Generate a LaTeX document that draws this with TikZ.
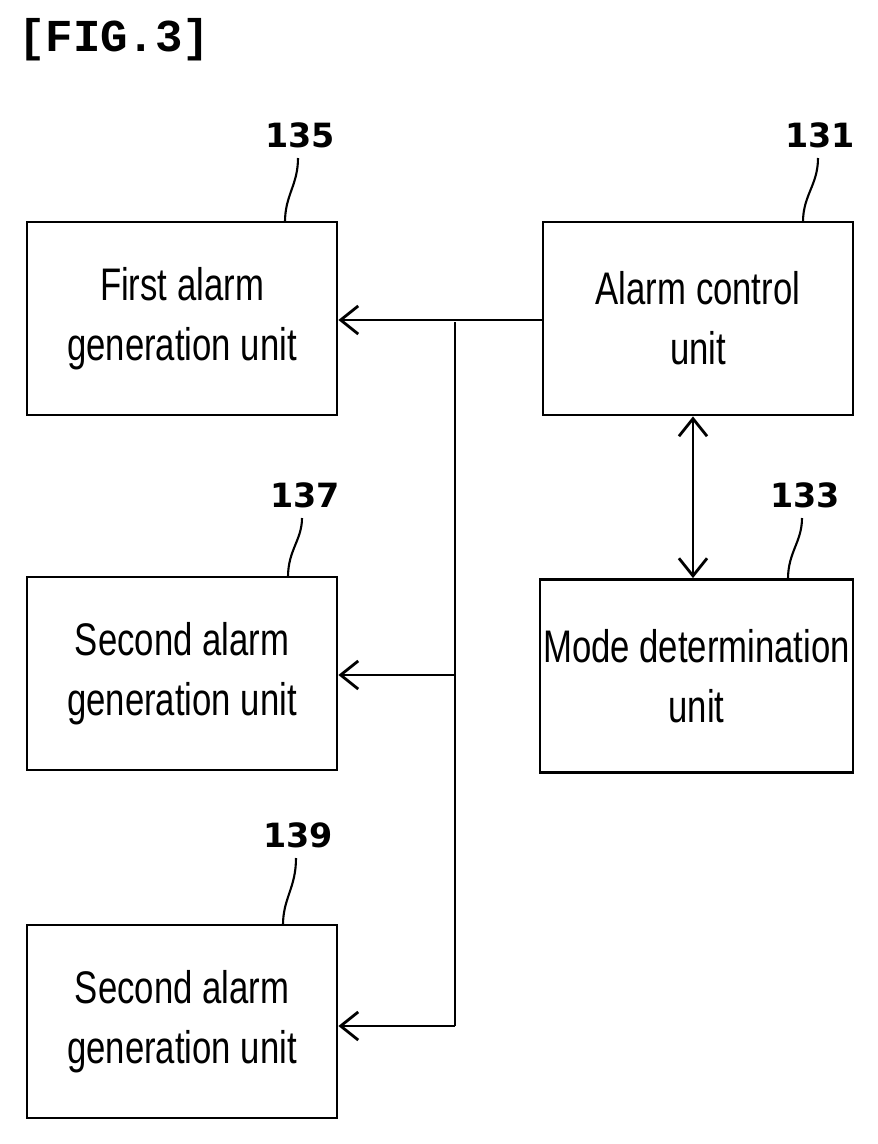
\documentclass[tikz,border=0pt]{standalone}
\usepackage{fontspec}
\setmainfont{Liberation Sans}[FakeStretch=0.76]
\newfontfamily\monof{Liberation Mono}
\newfontfamily\numf{DejaVu Sans}
\usetikzlibrary{arrows.meta}
\begin{document}
\begin{tikzpicture}[x=0.02cm,y=-0.02cm,
  box/.style={draw,line width=1.6pt,minimum width=310*0.02cm,minimum height=193*0.02cm,align=center,font=\fontsize{26}{34}\selectfont,inner sep=0pt},
  ref/.style={font=\numf\bfseries\fontsize{19}{22}\selectfont},
  con/.style={line width=1.6pt},
  arr/.style={con,-{Straight Barb[length=10pt,width=16pt,line width=1.6pt]}},
  ld/.style={line width=1.2pt}]
\useasboundingbox (0,0) rectangle (878,1144);
\node[anchor=west,font=\monof\bfseries\fontsize{26}{30}\selectfont] (t) at (12,40) {[FIG.3]};
\node[box] (b135) at (182,318.5) {First alarm\\generation unit};
\node[box] (b131) at (698,318.5) {Alarm control\\unit};
\node[box] (b137) at (182,673.5) {Second alarm\\generation unit};
\node[box,minimum width=313*0.02cm] (b133) at (696.5,676) {Mode determination\\unit};
\node[box] (b139) at (182,1021.5) {Second alarm\\generation unit};
\node[ref] (r135) at (300,135) {135};
\node[ref] (r131) at (820,135) {131};
\node[ref] (r137) at (305,495) {137};
\node[ref] (r133) at (805,495) {133};
\node[ref] (r139) at (298,835) {139};
\draw[ld] (285,222) .. controls (285,195) and (298,185) .. (298,158);
\draw[ld] (803,222) .. controls (803,195) and (818,185) .. (818,158);
\draw[ld] (288,577) .. controls (288,550) and (302,540) .. (302,518);
\draw[ld] (788,579) .. controls (788,552) and (802,542) .. (802,518);
\draw[ld] (283,925) .. controls (283,898) and (296,888) .. (296,858);
\coordinate (top) at (455,322);
\coordinate (bot) at (455,1026);
\draw[arr] (b131.west |- 0,320) -- (b135.east |- 0,320);
\draw[con] (top) -- (bot);
\draw[arr] (455,675) -- (b137.east |- 0,675);
\draw[arr] (bot) -- (b139.east |- 0,1026);
\draw[con,{Straight Barb[length=10pt,width=16pt,line width=1.6pt]}-{Straight Barb[length=10pt,width=16pt,line width=1.6pt]}] (b131.south -| 693,0) -- (b133.north -| 693,0);
\end{tikzpicture}
\end{document}
